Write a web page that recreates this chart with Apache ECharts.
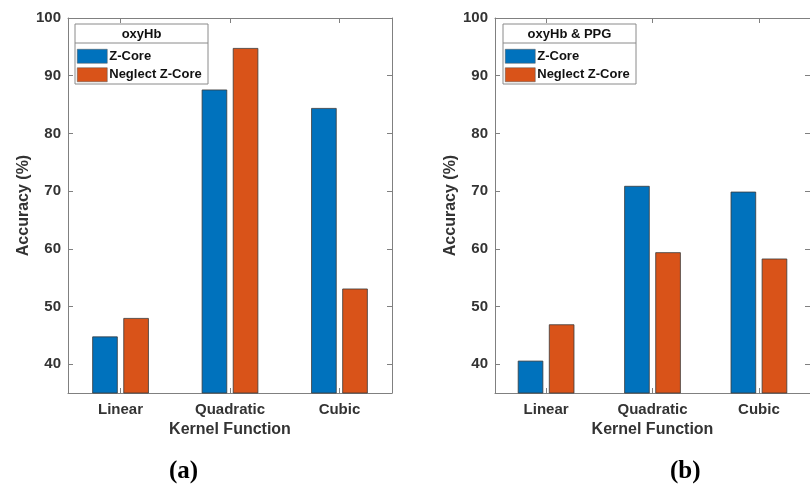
<!DOCTYPE html>
<html><head><meta charset="utf-8">
<script src="https://cdn.jsdelivr.net/npm/echarts@6/dist/echarts.min.js"></script>
<style>html,body{margin:0;padding:0;background:#fff}#c{width:810px;height:487px}</style>
</head><body><div id="c"></div>
<script>
const categories = ['Linear', 'Quadratic', 'Cubic'];
const seriesNames = ['Z-Core', 'Neglect Z-Core'];
const zCoreA = [44.8, 87.6, 84.4];
const neglectA = [48.0, 94.8, 53.1];
const zCoreB = [40.6, 70.9, 69.9];
const neglectB = [46.9, 59.4, 58.3];
const yTicks = [40, 50, 60, 70, 80, 90, 100];
const legendTitles = ['oxyHb', 'oxyHb & PPG'];
const panelLabels = ['a', 'b'];

const FONT = 'Liberation Sans, Arial, sans-serif';
const AX = '#808080';
const TXT = '#333';
const colors = ['#0072BD', '#D95319'];
const catPos = categories.map((c, j) => j + 1);

const grids = [
  {left: 68, top: 18, width: 324, height: 375},
  {left: 495, top: 18, width: 324, height: 375}
];

const xAxes = [], yAxes = [], series = [], legends = [], graphics = [], titles = [];
grids.forEach((g, i) => {
  const xBase = {
    type: 'value', gridIndex: i, min: 0.52, max: 3.48,
    splitLine: {show: false},
    axisLine: {show: true, lineStyle: {color: AX, width: 1}},
    axisTick: {show: true, inside: true, length: 5, lineStyle: {color: AX}, customValues: catPos}
  };
  xAxes.push(Object.assign({}, xBase, {
    position: 'bottom',
    axisLabel: {color: TXT, fontFamily: FONT, fontWeight: 'bold', fontSize: 15, margin: 9,
      customValues: catPos, formatter: v => categories[Math.round(v) - 1]},
    name: 'Kernel Function', nameLocation: 'middle', nameGap: 29,
    nameTextStyle: {color: TXT, fontFamily: FONT, fontWeight: 'bold', fontSize: 16}
  }));
  xAxes.push(Object.assign({}, xBase, {position: 'top', axisLabel: {show: false}}));
  yAxes.push({
    type: 'value', gridIndex: i, position: 'left', min: 35, max: 100,
    axisLine: {show: true, lineStyle: {color: AX, width: 1}},
    axisTick: {show: true, inside: true, length: 5, lineStyle: {color: AX}, customValues: yTicks},
    axisLabel: {color: TXT, fontFamily: FONT, fontWeight: 'bold', fontSize: 15, margin: 7, customValues: yTicks},
    splitLine: {show: false},
    name: 'Accuracy (%)', nameLocation: 'middle', nameGap: 32,
    nameTextStyle: {color: TXT, fontFamily: FONT, fontWeight: 'bold', fontSize: 16}
  });
  yAxes.push({
    type: 'value', gridIndex: i, position: 'right', min: 35, max: 100,
    axisLine: {show: true, lineStyle: {color: AX, width: 1}},
    axisTick: {show: true, inside: true, length: 5, lineStyle: {color: AX}, customValues: yTicks},
    axisLabel: {show: false},
    splitLine: {show: false}
  });
  const data = i === 0 ? [zCoreA, neglectA] : [zCoreB, neglectB];
  data.forEach((d, k) => {
    series.push({
      type: 'bar', name: seriesNames[k], xAxisIndex: i * 2, yAxisIndex: i * 2,
      data: d.map((v, j) => [catPos[j], v]), barWidth: 25.5, barGap: '22%',
      itemStyle: {color: colors[k], borderColor: '#3a3a3a', borderWidth: 0.8}
    });
  });
  const lx = i === 0 ? 75 : 503;
  legends.push({
    data: seriesNames, orient: 'vertical', left: lx + 2, top: 49,
    itemWidth: 30, itemHeight: 14, itemGap: 4, padding: 0, icon: 'rect',
    itemStyle: {borderWidth: 0.5, borderColor: '#555'},
    textStyle: {color: '#111', fontFamily: FONT, fontWeight: 'bold', fontSize: 13, padding: [0, 0, 0, -3]},
    selectedMode: false
  });
  graphics.push({
    type: 'rect', shape: {x: lx, y: 24, width: 133, height: 60},
    style: {fill: 'rgba(255,255,255,0.95)', stroke: '#8a8a8a', lineWidth: 1}, z: 0
  });
  graphics.push({
    type: 'line', shape: {x1: lx, y1: 43, x2: lx + 133, y2: 43},
    style: {stroke: '#8a8a8a', lineWidth: 1}
  });
  graphics.push({
    type: 'text', x: lx + 66.5, y: 34,
    style: {text: legendTitles[i], fill: '#111', font: 'bold 13px ' + FONT, textAlign: 'center', textVerticalAlign: 'middle'}
  });
  titles.push({
    text: '{p|(}{b|' + panelLabels[i] + '}{p|)}',
    left: i === 0 ? 169 : 670, top: 459, padding: 0,
    textStyle: {rich: {
      p: {fontFamily: 'Liberation Serif, serif', fontSize: 25, color: '#000'},
      b: {fontFamily: 'Liberation Serif, serif', fontSize: 25, fontWeight: 'bold', color: '#000'}
    }}
  });
});

const chart = echarts.init(document.getElementById('c'));
chart.setOption({
  animation: false,
  backgroundColor: '#fff',
  title: titles,
  grid: grids,
  xAxis: xAxes,
  yAxis: yAxes,
  legend: legends,
  series: series,
  graphic: graphics
});
</script></body></html>
